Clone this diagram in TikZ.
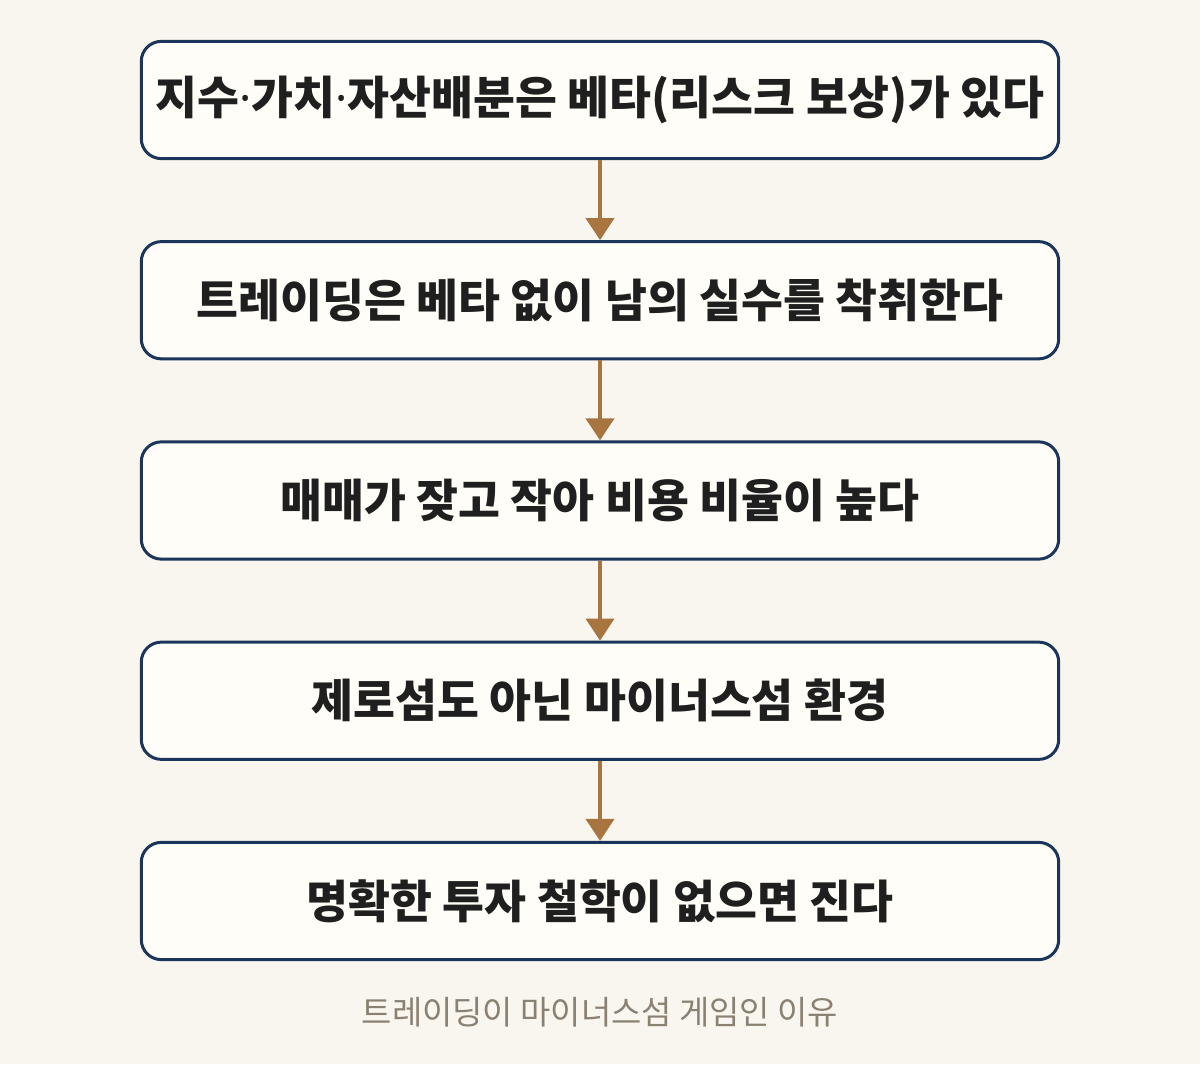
\documentclass[tikz,border=0pt]{standalone}
\usepackage{fontspec}
\setmainfont{Noto Sans CJK KR}
\newfontfamily\dotfont{Noto Sans}
\usetikzlibrary{arrows.meta}
\usetikzlibrary{positioning}

\definecolor{bgcream}{HTML}{F9F6EF}
\definecolor{boxfill}{HTML}{FFFDF8}
\definecolor{boxnavy}{HTML}{1C355A}
\definecolor{arrowbrown}{HTML}{A8743F}
\definecolor{captiongray}{HTML}{8A8172}

% narrow middle dot
\newcommand{\mdot}{{\dotfont\bfseries ·}}

\begin{document}
\begin{tikzpicture}[x=0.025cm, y=0.025cm,
        stepbox/.style = {draw=boxnavy, line width=0.075cm, rounded corners=0.5cm,
            fill=boxfill, minimum width=22.93cm, minimum height=2.93cm,
            font=\bfseries\fontsize{32.4}{38}\selectfont, text=black!88},
        flow/.style = {draw=arrowbrown, line width=0.1cm,
            -{Triangle[width=0.7cm, length=0.55cm, fill=arrowbrown]}}]
    \fill[bgcream] (0,0) rectangle (1200,1064);

    \node[stepbox] (beta) at (600,964) {지수\mdot 가치\mdot 자산배분은 베타(리스크 보상)가 있다};
    \node[stepbox, below=2cm of beta] (exploit) {트레이딩은 베타 없이 남의 실수를 착취한다};
    \node[stepbox, below=2cm of exploit] (cost) {매매가 잦고 작아 비용 비율이 높다};
    \node[stepbox, below=2cm of cost] (minus) {제로섬도 아닌 마이너스섬 환경};
    \node[stepbox, below=2cm of minus] (lose) {명확한 투자 철학이 없으면 진다};

    \node[font=\fontsize{23.4}{28}\selectfont, text=captiongray] (caption) at (600,52)
        {트레이딩이 마이너스섬 게임인 이유};

    \draw[flow] (beta) -- (exploit);
    \draw[flow] (exploit) -- (cost);
    \draw[flow] (cost) -- (minus);
    \draw[flow] (minus) -- (lose);
\end{tikzpicture}
\end{document}
